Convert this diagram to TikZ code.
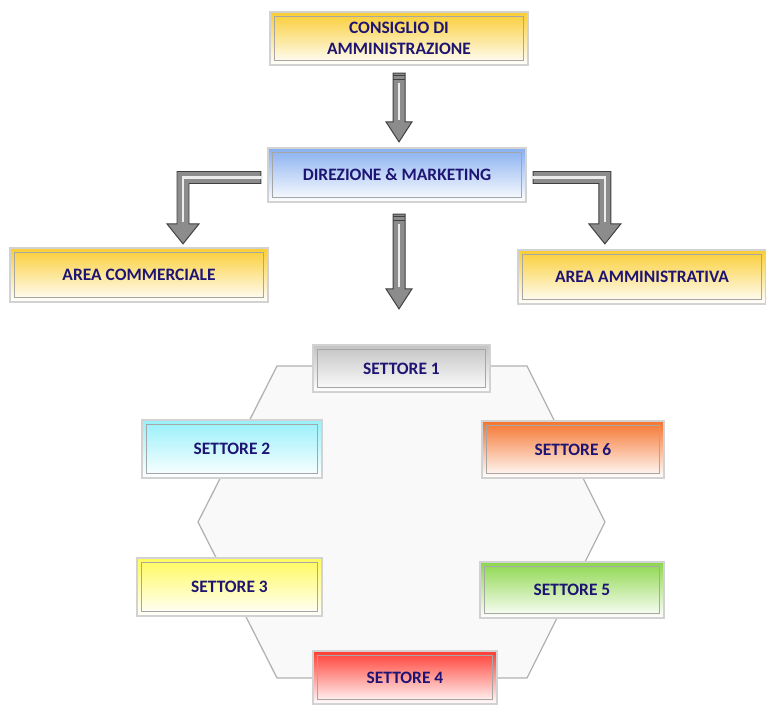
\documentclass[tikz,border=0pt]{standalone}
\usepackage{fontspec}
\setmainfont{Carlito}
\usetikzlibrary{calc}
\definecolor{inkblue}{RGB}{30,20,115}
\definecolor{gold}{RGB}{250,205,50}
\definecolor{skyblue}{RGB}{135,175,240}
\definecolor{silver}{RGB}{195,195,195}
\definecolor{aqua}{RGB}{150,240,250}
\definecolor{lemon}{RGB}{255,250,90}
\definecolor{tangerine}{RGB}{245,115,45}
\definecolor{leaf}{RGB}{140,215,75}
\definecolor{scarlet}{RGB}{255,60,50}
\definecolor{arrowgray}{RGB}{140,140,140}

\tikzset{
  box/.style={draw=gray!35,line width=1.6pt,top color=#1,bottom color=white,
    font=\fontsize{12.4}{14.5}\selectfont\bfseries,text=inkblue,align=center,
    path picture={\draw[gray!70,line width=0.7pt]
      ([shift={(3pt,3pt)}]path picture bounding box.south west) rectangle
      ([shift={(-3pt,-3pt)}]path picture bounding box.north east);}},
  blockarrow/.style={fill=arrowgray,draw=black!75,line width=0.7pt,line join=miter},
  hexline/.style={fill=gray!5,draw=gray!60,line width=0.9pt}
}

% vertical block arrow: #1 tail, #2 tip
\newcommand{\blockdown}[2]{%
  \path[blockarrow] ($(#1)+(-6,0)$) -- ($(#2)+(-6,-20)$) -- ($(#2)+(-13,-20)$) -- (#2)
    -- ($(#2)+(13,-20)$) -- ($(#2)+(6,-20)$) -- ($(#1)+(6,0)$) -- cycle;
  \draw[gray!15,line width=1.5pt] ($(#1)+(0,10)$) -- ($(#2)+(0,-22)$);
  \foreach \s in {2,6} \draw[black!75,line width=0.8pt] ($(#1)+(-6,\s)$) -- ($(#1)+(6,\s)$);
}
% elbow block arrow: #1 tail, #2 corner, #3 tip, #4 side (-1 left, 1 right)
\newcommand{\blockelbow}[4]{%
  \path[blockarrow] ($(#1)+(0,-6)$) -- ($(#2)+(#4*6,-6)$) -- ($(#3)+(#4*6,-20)$)
    -- ($(#3)+(#4*16,-20)$) -- (#3) -- ($(#3)+(-#4*16,-20)$) -- ($(#3)+(-#4*6,-20)$)
    -- ($(#2)+(-#4*6,6)$) -- ($(#1)+(0,6)$) -- cycle;
  \draw[gray!15,line width=1.5pt] ($(#1)+(-#4*2,0)$) -- (#2) -- ($(#3)+(0,-22)$);
}

\begin{document}
\begin{tikzpicture}[x=0.025cm,y=-0.025cm]
  \useasboundingbox (0,0) rectangle (766,704);

  % hexagon behind the sectors
  \draw[hexline] (277,366) -- (527,366) -- (605,522) -- (527,678) -- (277,678) -- (198,522) -- cycle;

  % top of the chart
  \node[box=gold,minimum width=6.45cm,minimum height=1.325cm] (cda) at (399,38.5)
    {CONSIGLIO DI\\AMMINISTRAZIONE};
  \node[box=skyblue,minimum width=6.45cm,minimum height=1.35cm] (dir) at (397,175)
    {DIREZIONE \& MARKETING};
  \node[box=gold,minimum width=6.45cm,minimum height=1.35cm] (com) at (139,275)
    {AREA COMMERCIALE};
  \node[box=gold,minimum width=6.2cm,minimum height=1.35cm] (amm) at (642,277)
    {AREA AMMINISTRATIVA};

  % sectors
  \node[box=silver,minimum width=4.425cm,minimum height=1.175cm] (s1) at (401.5,368.5) {SETTORE 1};
  \node[box=aqua,minimum width=4.5cm,minimum height=1.45cm] (s2) at (232,449) {SETTORE 2};
  \node[box=lemon,minimum width=4.625cm,minimum height=1.45cm] (s3) at (229.5,587) {SETTORE 3};
  \node[box=scarlet,minimum width=4.6cm,minimum height=1.325cm] (s4) at (405,677.5) {SETTORE 4};
  \node[box=leaf,minimum width=4.6cm,minimum height=1.4cm] (s5) at (572,590) {SETTORE 5};
  \node[box=tangerine,minimum width=4.55cm,minimum height=1.425cm] (s6) at (573,449.5) {SETTORE 6};

  % arrows
  \coordinate (a1s) at ($(cda.south)+(0,7)$);
  \coordinate (a1e) at ($(a1s |- dir.north)+(0,-5)$);
  \blockdown{a1s}{a1e}
  \coordinate (a2s) at ($(dir.south)+(2,11)$);
  \coordinate (a2e) at ($(a2s |- s1.north)+(0,-35)$);
  \blockdown{a2s}{a2e}

  \coordinate (l1) at ($(dir.west)+(-6,2.5)$);
  \coordinate (l2) at ($(com.north)+(44,0)$);
  \coordinate (lc) at (l2 |- l1);
  \coordinate (lt) at ($(l2)+(0,-3)$);
  \blockelbow{l1}{lc}{lt}{-1}

  \coordinate (r1) at ($(dir.east)+(6,2.5)$);
  \coordinate (r2) at ($(amm.north west)+(88,0)$);
  \coordinate (rc) at (r2 |- r1);
  \coordinate (rt) at ($(r2)+(0,-5)$);
  \blockelbow{r1}{rc}{rt}{1}
\end{tikzpicture}
\end{document}
